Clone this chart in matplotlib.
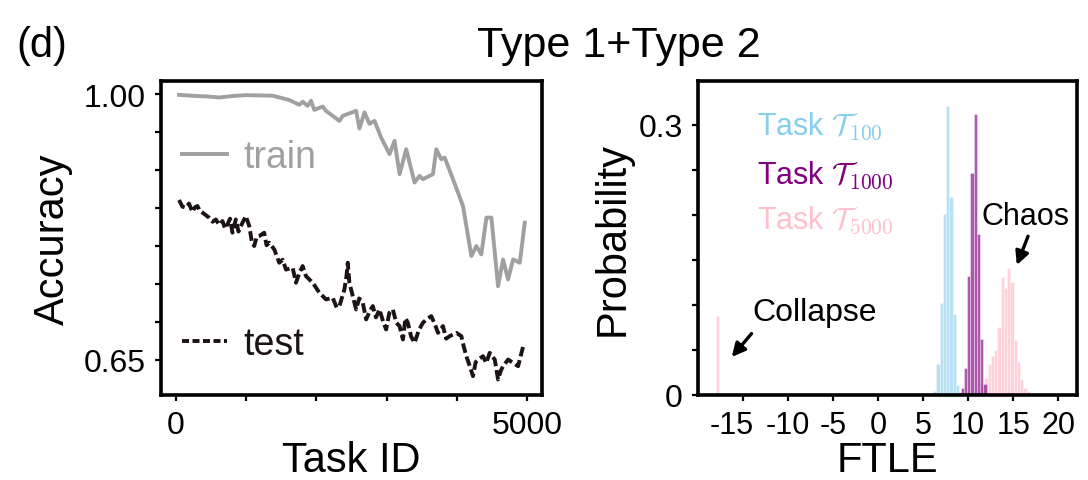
import numpy as np
import matplotlib
matplotlib.use('Agg')
import matplotlib.pyplot as plt
from matplotlib.lines import Line2D
from matplotlib.transforms import ScaledTranslation

plt.rcParams['font.family'] = ['Liberation Sans', 'DejaVu Sans']
plt.rcParams['mathtext.fontset'] = 'cm'
plt.rcParams['axes.unicode_minus'] = False

# ---------------- accuracy vs task id ----------------
train_task = [43, 300, 450, 614, 800, 995, 1376, 1614, 1757, 1805, 1876, 1924, 1971,
              2090, 2138, 2329, 2376, 2567, 2614, 2686, 2757, 2829, 2924, 3043,
              3115, 3186, 3281, 3400, 3471, 3519, 3662, 3710, 3781, 3829, 3948,
              4090, 4210, 4281, 4352, 4424, 4495, 4590, 4662, 4733, 4805, 4900, 4971]
train_acc = [0.999, 0.9975, 0.997, 0.9956, 0.9975, 0.9987, 0.998, 0.9923, 0.986, 0.990,
             0.9846, 0.9912, 0.9793, 0.9837, 0.978, 0.9648, 0.9714, 0.978, 0.9547,
             0.976, 0.961, 0.9648, 0.9428, 0.921, 0.9385, 0.8946, 0.9275, 0.8836,
             0.8924, 0.888, 0.8946, 0.9275, 0.9143, 0.9165, 0.888, 0.8528, 0.7868,
             0.800, 0.789, 0.8374, 0.8374, 0.7471, 0.7823, 0.756, 0.7823, 0.778, 0.8308]

test_task = [43, 90, 138, 185, 233, 270, 305, 340, 376, 420, 471, 520, 567, 615, 662,
             700, 733, 770, 805, 852, 890, 924, 960, 995, 1043, 1080, 1114, 1150, 1186,
             1257, 1290, 1329, 1400, 1471, 1520, 1567, 1662, 1710, 1760, 1805, 1852,
             1948, 2043, 2138, 2233, 2290, 2329, 2400, 2430, 2448, 2471, 2519, 2567,
             2610, 2662, 2710, 2760, 2805, 2850, 2900, 2950, 2995, 3040, 3090, 3140,
             3186, 3234, 3270, 3305, 3350, 3400, 3460, 3519, 3580, 3638, 3690, 3734,
             3805, 3850, 3900, 3995, 4067, 4100, 4138, 4190, 4233, 4270, 4305, 4376,
             4420, 4471, 4543, 4590, 4630, 4662, 4733, 4805, 4876, 4948]
test_acc = [0.8606, 0.852, 0.8505, 0.856, 0.845, 0.851, 0.8527, 0.846, 0.844, 0.841,
            0.8373, 0.832, 0.835, 0.828, 0.833, 0.823, 0.8285, 0.836, 0.8175, 0.835,
            0.819, 0.8263, 0.833, 0.8395, 0.8263, 0.806, 0.800, 0.812, 0.8131, 0.8175,
            0.801, 0.8044, 0.7956, 0.778, 0.782, 0.769, 0.7714, 0.7517, 0.765, 0.7736,
            0.7604, 0.7517, 0.7385, 0.7297, 0.7319, 0.719, 0.7209, 0.7429, 0.761,
            0.778, 0.7517, 0.7341, 0.7165, 0.731, 0.7253, 0.7033, 0.714, 0.7209,
            0.706, 0.7165, 0.701, 0.6901, 0.712, 0.7165, 0.699, 0.6945, 0.6769, 0.705,
            0.699, 0.681, 0.6725, 0.689, 0.699, 0.704, 0.7077, 0.697, 0.6857, 0.6945,
            0.678, 0.6813, 0.6857, 0.6813, 0.668, 0.6549, 0.641, 0.6286, 0.647, 0.6505,
            0.6549, 0.646, 0.6593, 0.6505, 0.6242, 0.636, 0.6417, 0.6505, 0.6461,
            0.6417, 0.668]

# ---------------- FTLE histograms ----------------
bin_w = 0.36
t100_x = [6.30, 6.66, 7.02, 7.38, 7.74, 8.10, 8.46, 8.82, 9.18]
t100_p = [0.004, 0.034, 0.102, 0.201, 0.321, 0.220, 0.090, 0.011, 0.003]

t1000_x = [9.36, 9.72, 10.08, 10.44, 10.80, 11.16, 11.52, 11.88]
t1000_p = [0.008, 0.030, 0.132, 0.246, 0.312, 0.178, 0.062, 0.012]

t5000_x = [-17.8, 11.26, 11.62, 11.98, 12.34, 12.70, 13.06, 13.42, 13.78, 14.14,
           14.50, 14.86, 15.22, 15.58, 15.94, 16.30, 16.66]
t5000_p = [0.087, 0.004, 0.010, 0.019, 0.034, 0.043, 0.050, 0.075, 0.131, 0.119,
           0.141, 0.125, 0.061, 0.036, 0.018, 0.008, 0.004]

c_train = '#a0a0a0'
c_test = '#1c1414'
c100 = 'skyblue'
c1000 = 'purple'
c5000 = 'pink'

fig = plt.figure(figsize=(10.88, 4.81), dpi=100)
ax1 = fig.add_axes([0.148, 0.177, 0.350, 0.652])
ax2 = fig.add_axes([0.6415, 0.177, 0.3485, 0.652])

for ax in (ax1, ax2):
    for s in ax.spines.values():
        s.set_linewidth(2.6)
    ax.tick_params(direction='out', length=4, width=1.6, labelsize=22, pad=7)

# left panel
ax1.plot(train_task, train_acc, color=c_train, lw=2.8, label='train')
ax1.plot(test_task, test_acc, color=c_test, lw=2.8, ls='--', dashes=(2.5, 1.0), label='test')
ax1.set_xlim(-214, 5214)
ax1.set_ylim(0.604, 1.017)
ax1.set_xticks(np.arange(0, 5001, 1000))
ax1.set_xticklabels(['0', '', '', '', '', '5000'])
ax1.set_yticks(np.round(np.arange(0.65, 1.001, 0.05), 2))
ax1.set_yticklabels(['0.65'] + [''] * 6 + ['1.00'])
ax1.tick_params(axis='both', labelsize=23)
ax1.set_xlabel('Task ID', fontsize=30, labelpad=0)
ax1.set_ylabel('Accuracy', fontsize=30, labelpad=8)

h_train = Line2D([], [], color=c_train, lw=2.8)
h_test = Line2D([], [], color=c_test, lw=2.8, ls='--', dashes=(1.8, 0.9))
leg1 = ax1.legend([h_train], ['train'], loc='center left', bbox_to_anchor=(0.055, 0.758),
                  frameon=False, fontsize=27, handlelength=1.2, handletextpad=0.45,
                  borderpad=0, borderaxespad=0, labelcolor=[c_train])
ax1.add_artist(leg1)
ax1.legend([h_test], ['test'], loc='center left', bbox_to_anchor=(0.055, 0.162),
           frameon=False, fontsize=27, handlelength=1.2, handletextpad=0.45,
           borderpad=0, borderaxespad=0, labelcolor=[c_test])

# right panel
ax2.bar(t100_x, t100_p, width=bin_w, color=c100, alpha=0.6, edgecolor='white', linewidth=0.4)
ax2.bar(t5000_x, t5000_p, width=bin_w, color=c5000, alpha=0.7, edgecolor='white', linewidth=0.4)
ax2.bar(t1000_x, t1000_p, width=bin_w, color=c1000, alpha=0.65, edgecolor='white', linewidth=0.4)
ax2.set_xlim(-20, 22.1)
ax2.set_ylim(0, 0.348)
ax2.set_xticks(np.arange(-15, 21, 5))
ax2.set_yticks(np.round(np.arange(0, 0.301, 0.05), 2))
ax2.set_yticklabels(['0'] + [''] * 5 + ['0.3'])
ax2.tick_params(axis='y', labelsize=23)
ax2.set_xlabel('FTLE', fontsize=30, labelpad=0)
ax2.set_ylabel('Probability', fontsize=30, labelpad=4)

# nudge the leftmost label so it clears its neighbour
first = ax2.get_xticklabels()[0]
first.set_transform(first.get_transform() + ScaledTranslation(-0.11, 0, fig.dpi_scale_trans))

ax2.text(-13.45, 0.299, r'Task $\mathcal{T}_{100}$', color=c100, fontsize=22, va='center')
ax2.text(-13.45, 0.245, r'Task $\mathcal{T}_{1000}$', color=c1000, fontsize=22, va='center')
ax2.text(-13.45, 0.195, r'Task $\mathcal{T}_{5000}$', color=c5000, fontsize=22, va='center')

arrow_kw = dict(arrowstyle='-|>', color='black', lw=2.4, mutation_scale=20,
                shrinkA=0, shrinkB=0)
ax2.text(-14.0, 0.092, 'Collapse', fontsize=23, ha='left', va='center')
ax2.annotate('', xy=(-16.25, 0.042), xytext=(-14.05, 0.068), arrowprops=arrow_kw)
ax2.text(16.35, 0.198, 'Chaos', fontsize=22, ha='center', va='center')
ax2.annotate('', xy=(15.4, 0.144), xytext=(16.65, 0.176), arrowprops=arrow_kw)

fig.text(0.569, 0.905, 'Type 1+Type 2', fontsize=31, ha='center', va='center')
fig.text(0.015, 0.905, '(d)', fontsize=30, ha='left', va='center')

fig.savefig('out.png', dpi=100)
